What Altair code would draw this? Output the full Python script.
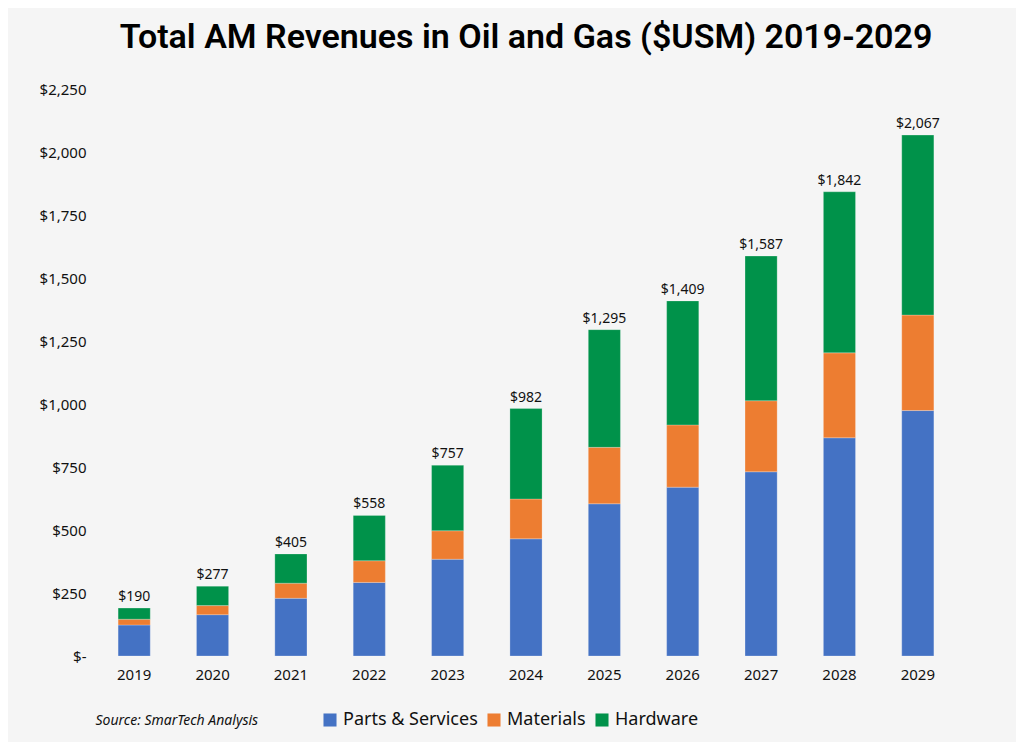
import altair as alt
import pandas as pd

years = ["2019", "2020", "2021", "2022", "2023", "2024", "2025", "2026", "2027", "2028", "2029"]
parts = [123, 164, 229, 292, 384, 465, 604, 670, 731, 866, 974]
materials = [23, 36, 60, 86, 113, 158, 224, 247, 282, 337, 379]
hardware = [44, 77, 116, 180, 260, 359, 467, 492, 574, 639, 714]
totals = [190, 277, 405, 558, 757, 982, 1295, 1409, 1587, 1842, 2067]
series = ["Parts & Services", "Materials", "Hardware"]
colors = ["#4472C4", "#ED7D31", "#00924A"]

rows = []
for i, y in enumerate(years):
    for k, (name, vals) in enumerate(zip(series, [parts, materials, hardware])):
        rows.append({"year": y, "series": name, "value": vals[i], "order": k})
df = pd.DataFrame(rows)
tdf = pd.DataFrame({"year": years, "total": totals})

FONT = "Noto Sans"

xenc = alt.X("year:N", sort=years, scale=alt.Scale(paddingInner=0.59, paddingOuter=0.295),
             axis=alt.Axis(title="Source: SmarTech Analysis", titleFontStyle="italic",
                           titleFontWeight="normal", titleFontSize=14, titleFont=FONT,
                           titleColor="#111", titleAnchor="start", titleAlign="left",
                           titleX=0, titleY=64, titleBaseline="middle",
                           labelAngle=0, labelFontSize=15, labelFont=FONT, labelColor="#111",
                           labelPadding=11, domain=False, ticks=False))

bars = alt.Chart(df).mark_bar(stroke="#ffffff", strokeWidth=0.4, strokeOpacity=0.6).encode(
    x=xenc,
    y=alt.Y("value:Q", stack="zero", scale=alt.Scale(domain=[0, 2250], nice=False),
            axis=alt.Axis(title=None, values=list(range(0, 2251, 250)),
                          labelExpr="datum.value == 0 ? '$-' : '$' + format(datum.value, ',')",
                          labelFontSize=15, labelFont=FONT, labelColor="#111",
                          labelPadding=9, domain=False, ticks=False, grid=False)),
    color=alt.Color("series:N", sort=series, scale=alt.Scale(domain=series, range=colors),
                    legend=alt.Legend(title=None, orient="none", direction="horizontal",
                                      legendX=226, legendY=622, symbolType="square",
                                      symbolSize=170, symbolStrokeWidth=0,
                                      labelFontSize=18, labelFont=FONT, labelColor="#111",
                                      columnPadding=7, symbolOffset=0, labelOffset=4)),
    order=alt.Order("order:Q"),
)

labels = alt.Chart(tdf).mark_text(dy=-11, fontSize=14, font=FONT, color="#111").encode(
    x=alt.X("year:N", sort=years),
    y=alt.Y("total:Q"),
    text=alt.Text("total:Q", format="$,"),
)

chart = alt.layer(bars, labels).properties(
    width=862, height=567,
    background="#f5f5f5",
    padding={"left": 87, "top": 81, "right": 59, "bottom": 86},
    autosize=alt.AutoSizeParams(type="none"),
    title=alt.TitleParams("Total AM Revenues in Oil and Gas ($USM) 2019-2029",
                          font="Roboto", fontSize=34, fontWeight=600, color="#000",
                          anchor="middle", offset=27),
).configure_view(stroke=None)

chart.save("out.html", embed_options={"renderer": "svg", "actions": False})
